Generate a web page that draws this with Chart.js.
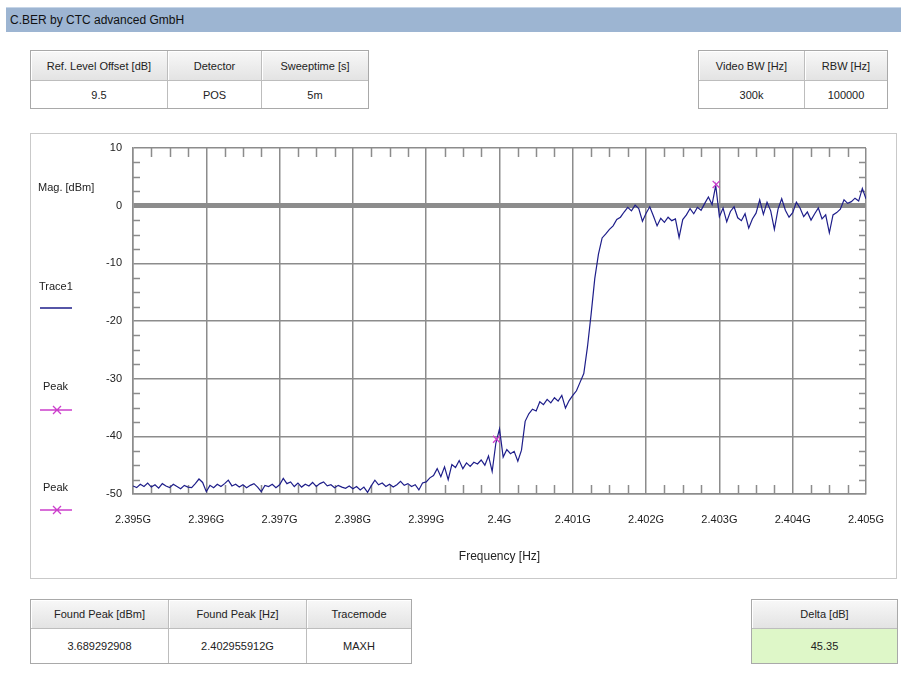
<!DOCTYPE html>
<html><head><meta charset="utf-8">
<script src="https://cdn.jsdelivr.net/npm/chart.js@4.4.0/dist/chart.umd.min.js"></script>
<style>
html,body{margin:0;padding:0;background:#fff;width:901px;height:678px;overflow:hidden;font-family:"Liberation Sans",Arial,sans-serif;}
#bar{position:absolute;left:6px;top:7px;width:895px;height:25px;background:#9db5d2;border-top:1px solid #c6d5e7;box-sizing:border-box;}
#bar span{position:absolute;left:4px;top:5px;font-size:12px;color:#111;}
.tbl{position:absolute;display:grid;border:1px solid #a9a9a9;box-sizing:border-box;font-size:11px;color:#222;}
.tbl div{display:flex;align-items:center;justify-content:center;border-right:1px solid #bdbdbd;border-bottom:1px solid #bdbdbd;box-sizing:border-box;}
.tbl div.last{border-right:none;}
.tbl div.h{background:linear-gradient(#f8f8f8,#e3e3e3);box-shadow:inset 1px 1px 0 #fff;}
.tbl div.v{background:#fff;border-bottom:none;}
.tbl div.g{background:#def7c8;}
#panel{position:absolute;left:30px;top:133px;width:867px;height:446px;border:1px solid #c9c9c9;box-sizing:border-box;}
#wrap{position:absolute;left:31px;top:134px;width:865px;height:444px;}
</style></head>
<body>
<div id="bar"><span>C.BER by CTC advanced GmbH</span></div>
<div id="panel"></div>
<div id="wrap"><canvas id="c" width="865" height="444"></canvas></div>
<script>
// ---- data ----
const titleText = "C.BER by CTC advanced GmbH";
const topLeftHeaders = ["Ref. Level Offset [dB]", "Detector", "Sweeptime [s]"];
const topLeftValues  = ["9.5", "POS", "5m"];
const topRightHeaders = ["Video BW [Hz]", "RBW [Hz]"];
const topRightValues  = ["300k", "100000"];
const bottomLeftHeaders = ["Found Peak [dBm]", "Found Peak [Hz]", "Tracemode"];
const bottomLeftValues  = ["3.689292908", "2.402955912G", "MAXH"];
const deltaHeaders = ["Delta [dB]"];
const deltaValues  = ["45.35"];

const startMHz = 2395, stopMHz = 2405;   // sweep span
const xTickLabels = ["2.395G","2.396G","2.397G","2.398G","2.399G","2.4G","2.401G","2.402G","2.403G","2.404G","2.405G"];
const yTickLabels = ["-50","-40","-30","-20","-10","0","10"];
const trace1 = [
 -48.6,-48.9,-48.3,-48.7,-48.1,-48.8,-48.4,-49.0,-48.2,-48.6,
 -48.9,-48.3,-48.7,-49.1,-48.5,-48.8,-48.9,-48.2,-47.4,-48.0,
 -49.6,-48.5,-48.9,-48.3,-48.7,-48.2,-47.6,-48.6,-48.3,-48.8,
 -48.4,-48.9,-48.5,-48.2,-48.8,-49.6,-48.5,-48.7,-48.3,-48.9,
 -48.4,-47.3,-48.2,-47.9,-48.7,-48.1,-48.8,-48.3,-48.6,-48.0,
 -48.7,-48.2,-47.9,-48.6,-48.4,-48.9,-48.5,-48.8,-49.0,-48.6,
 -49.1,-48.7,-49.3,-48.8,-49.7,-48.6,-47.6,-48.4,-48.1,-48.7,
 -48.3,-48.8,-48.4,-47.8,-48.5,-48.2,-48.7,-48.4,-49.3,-48.1,
 -47.9,-47.2,-46.8,-45.6,-47.0,-45.3,-47.5,-44.9,-45.4,-44.2,
 -45.6,-44.6,-45.2,-44.5,-44.8,-44.1,-45.0,-43.4,-46.1,-41.2,
 -38.7,-43.6,-42.3,-43.0,-42.6,-44.3,-42.4,-37.4,-36.1,-35.3,
 -35.6,-34.0,-34.5,-33.6,-34.2,-33.3,-33.9,-32.9,-35.1,-33.8,
 -32.9,-32.1,-30.6,-29.1,-24.5,-18.8,-12.6,-8.4,-5.6,-4.9,
 -4.1,-3.5,-2.4,-2.0,-1.1,-0.3,-0.9,0.1,-0.5,-2.7,
 -1.3,-0.2,-1.8,-3.5,-2.2,-2.9,-2.0,-2.6,-2.3,-5.5,
 -2.4,-1.6,-0.5,-1.4,-0.3,-0.8,0.4,1.5,0.2,3.5,
 -1.9,-0.4,-2.8,-1.0,-0.2,-2.1,-2.6,-1.4,-3.9,-2.3,
 -1.3,1.0,-1.5,0.6,-0.9,-4.1,-0.6,1.2,-0.8,-2.0,
 -1.2,0.6,-0.4,-1.9,-1.1,-2.5,-1.4,-0.4,-2.3,-1.6,
 -4.7,-1.6,-1.2,-0.6,1.0,0.4,0.7,1.3,0.8,3.0,
 1.2
];
const peakFreqMHz = [2399.96, 2402.956];
const peakLevels  = [-40.5, 3.689292908];

// ---- tables ----
function makeTable(left, top, widths, rows, headers, values, green){
  const t = document.createElement('div');
  t.className = 'tbl';
  t.style.left = left + 'px'; t.style.top = top + 'px';
  t.style.gridTemplateColumns = widths.map(w => w + 'px').join(' ');
  t.style.gridTemplateRows = rows.map(h => h + 'px').join(' ');
  t.style.width = (widths.reduce((a,b)=>a+b,0) + 2) + 'px';
  headers.forEach((h,i)=>{const d=document.createElement('div');d.className='h'+(i===headers.length-1?' last':'');d.textContent=h;t.appendChild(d);});
  values.forEach((v,i)=>{const d=document.createElement('div');d.className='v'+(green?' g':'')+(i===values.length-1?' last':'');d.textContent=v;t.appendChild(d);});
  document.body.appendChild(t);
}
makeTable(30, 50, [137,94,106], [30,27], topLeftHeaders, topLeftValues, false);
makeTable(698, 50, [106,82], [30,27], topRightHeaders, topRightValues, false);
makeTable(30, 599, [138,138,104], [29,34], bottomLeftHeaders, bottomLeftValues, false);
makeTable(751, 599, [145], [29,34], deltaHeaders, deltaValues, true);

// ---- chart ----
const FONT = '"Liberation Sans", Arial, sans-serif';
const GRID = '#8c8c8c';
const NAVY = '#1e1e8a';
const MAG = '#cc3fcc';
const traceData = trace1.map((v,i)=>({x: startMHz + i*(stopMHz-startMHz)/(trace1.length-1), y: v}));

const minorTicks = {
  id:'minorTicks',
  beforeDatasetsDraw(chart){
    const {ctx, chartArea:a, scales:{x,y}} = chart;
    ctx.save(); ctx.strokeStyle = GRID; ctx.lineWidth = 1.5;
    ctx.beginPath();
    for (let f = startMHz; f < stopMHz; f += 1){
      for (let q = 1; q < 4; q++){
        const px = Math.round(x.getPixelForValue(f + q*0.25)) + 0.5;
        ctx.moveTo(px, a.top); ctx.lineTo(px, a.top + 9);
        ctx.moveTo(px, a.bottom); ctx.lineTo(px, a.bottom - 9);
      }
    }
    for (let v = -50; v < 10; v += 10){
      for (let q = 1; q < 4; q++){
        const py = Math.round(y.getPixelForValue(v + q*2.5)) + 0.5;
        ctx.moveTo(a.left, py); ctx.lineTo(a.left + 7, py);
        ctx.moveTo(a.right, py); ctx.lineTo(a.right - 7, py);
      }
    }
    ctx.stroke(); ctx.restore();
  }
};

const sideLegend = {
  id:'sideLegend',
  afterDraw(chart){
    const ctx = chart.ctx;
    ctx.save();
    ctx.font = '11px ' + FONT; ctx.fillStyle = '#222'; ctx.textBaseline = 'middle';
    ctx.fillText('Mag. [dBm]', 7, 54);
    const ds = chart.data.datasets;
    ctx.fillText(ds[0].label, 8, 153);
    ctx.strokeStyle = NAVY; ctx.lineWidth = 1.5;
    ctx.beginPath(); ctx.moveTo(9,174); ctx.lineTo(41,174); ctx.stroke();
    [[ds[1].label,253,276],[ds[2].label,354,376]].forEach(([t,ty,ly])=>{
      ctx.fillStyle = '#222'; ctx.fillText(t, 12, ty);
      ctx.strokeStyle = MAG; ctx.lineWidth = 1.3;
      ctx.beginPath(); ctx.moveTo(9,ly); ctx.lineTo(41,ly);
      ctx.moveTo(22,ly-4); ctx.lineTo(30,ly+4); ctx.moveTo(22,ly+4); ctx.lineTo(30,ly-4);
      ctx.stroke();
    });
    ctx.restore();
  }
};

new Chart(document.getElementById('c'), {
  type:'scatter',
  data:{datasets:[
    {label:'Trace1', data: traceData, showLine:true, borderColor:NAVY, borderWidth:1.2, pointRadius:0, tension:0, order:2},
    {label:'Peak', data:[{x:peakFreqMHz[0], y:peakLevels[0]}], pointStyle:'crossRot', pointRadius:5, borderColor:MAG, backgroundColor:MAG, borderWidth:1.3, showLine:false, order:1},
    {label:'Peak', data:[{x:peakFreqMHz[1], y:peakLevels[1]}], pointStyle:'crossRot', pointRadius:5, borderColor:MAG, backgroundColor:MAG, borderWidth:1.3, showLine:false, order:1}
  ]},
  options:{
    animation:false, responsive:false, maintainAspectRatio:false, devicePixelRatio:1,
    layout:{padding:{left:0,right:30,top:14,bottom:0}},
    plugins:{legend:{display:false}, tooltip:{enabled:false}},
    scales:{
      x:{type:'linear', min:startMHz, max:stopMHz,
        ticks:{stepSize:1, autoSkip:false, maxRotation:0, padding:0, color:'#222', font:{family:FONT,size:11},
          callback:(v,i)=>xTickLabels[i]},
        grid:{color:GRID, lineWidth:1.5, drawTicks:true, tickLength:19, tickColor:'rgba(0,0,0,0)'},
        border:{display:true, color:GRID, width:1.5},
        title:{display:true, text:'Frequency [Hz]', color:'#222', font:{family:FONT,size:12}, padding:{top:0,bottom:14}},
        afterFit:s=>{s.height=84;}
      },
      y:{min:-50, max:10,
        ticks:{stepSize:10, padding:0, color:'#222', font:{family:FONT,size:11},
          callback:(v,i)=>yTickLabels[i]},
        grid:{color:GRID, lineWidth:ctx=>(ctx.tick && ctx.tick.value===0)?5:1.5, drawTicks:true, tickLength:11, tickColor:'rgba(0,0,0,0)'},
        border:{display:true, color:GRID, width:1.5},
        afterFit:s=>{s.width=102;}
      }
    }
  },
  plugins:[minorTicks, sideLegend]
});
</script>
</body></html>
